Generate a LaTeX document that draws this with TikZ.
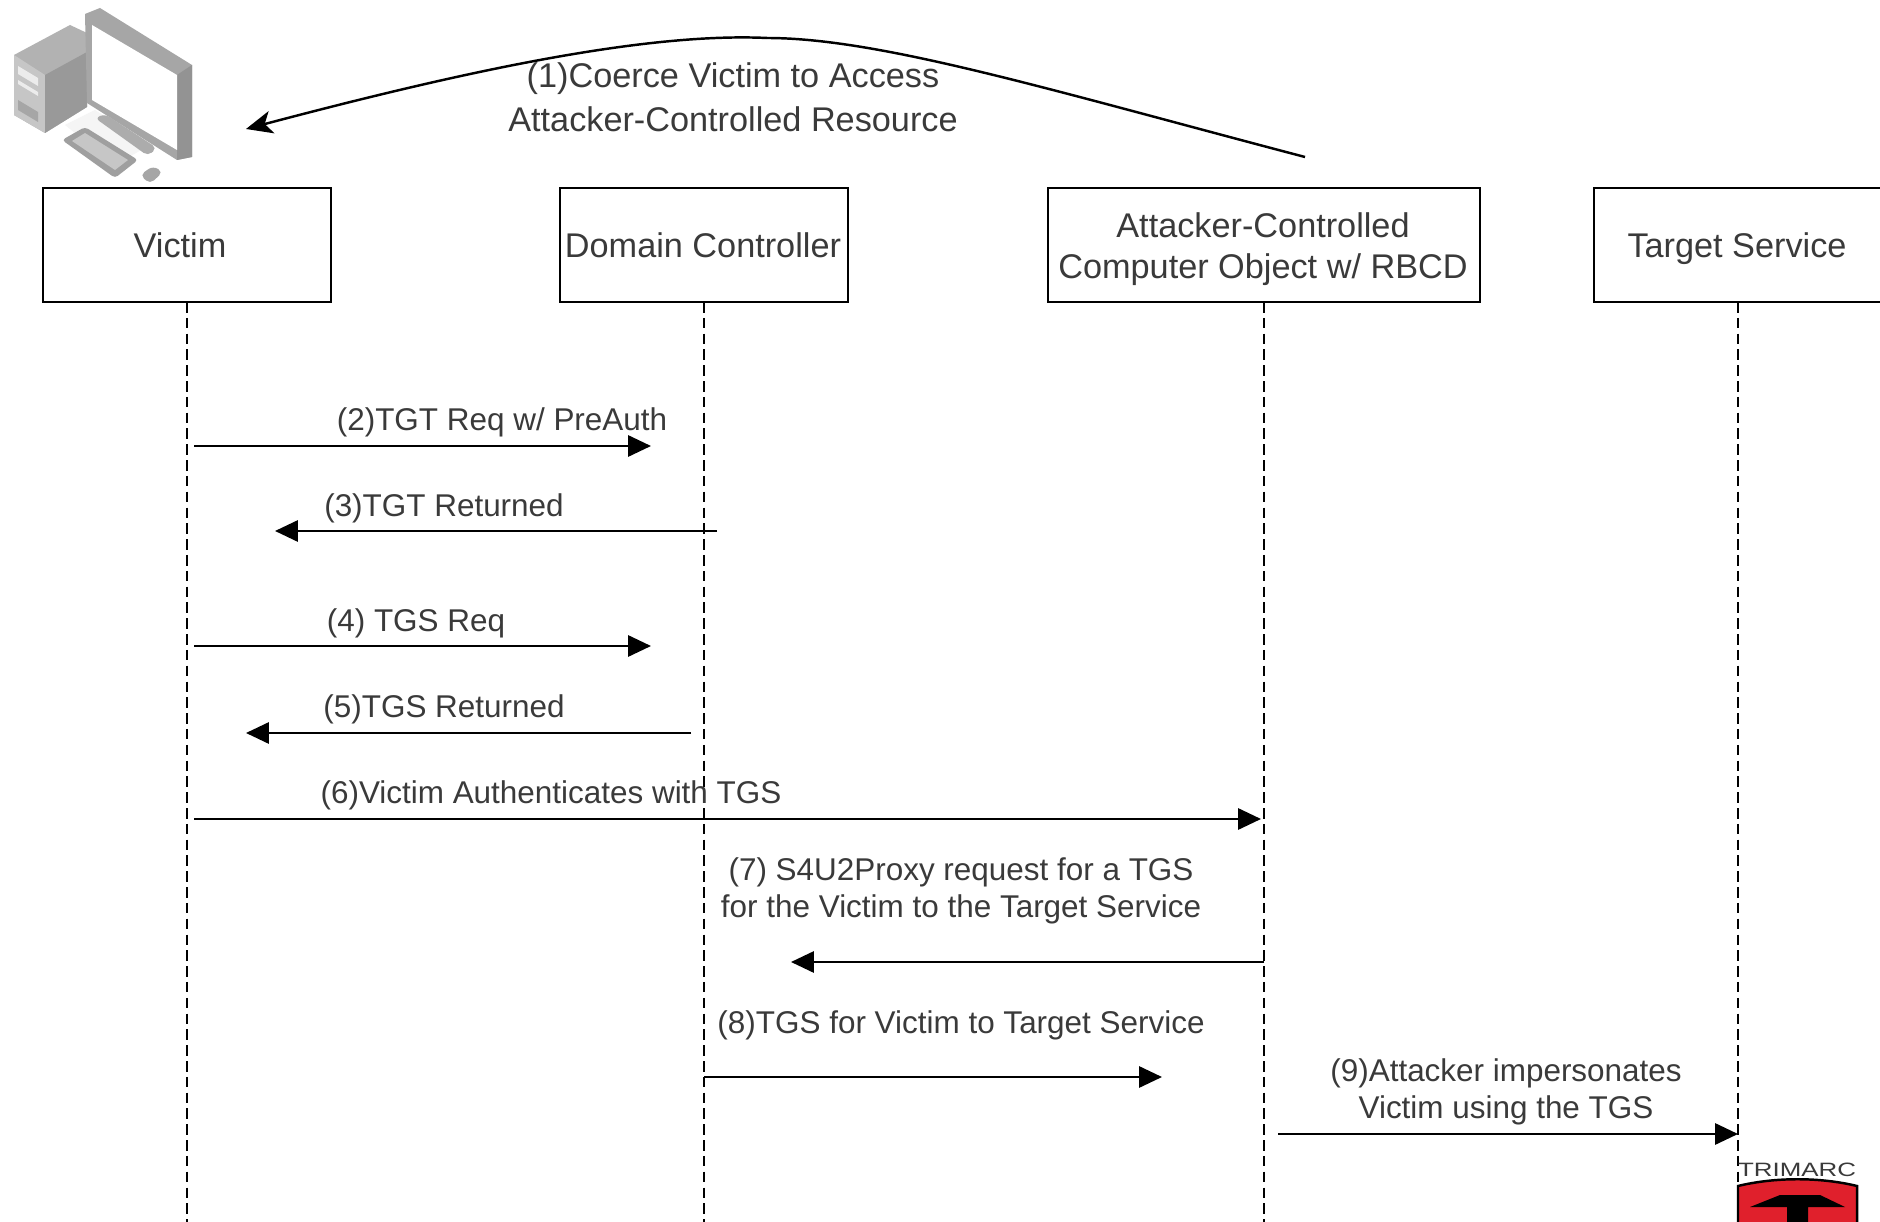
\documentclass[tikz,border=0pt]{standalone}
\usepackage{fontspec}
\setmainfont{Liberation Sans}
\usepackage{xcolor}
\usetikzlibrary{arrows.meta,positioning,calc}
\definecolor{labelgray}{HTML}{3A3A3A}
\definecolor{shieldred}{HTML}{E0202C}
\tikzset{
    actorbox/.style={draw=black,line width=1.5pt,fill=white,minimum width=164pt,minimum height=65pt,inner sep=0pt},
    lifeline/.style={draw=black,line width=1.3pt,dash pattern=on 6pt off 3pt},
    msgarrow/.style={draw=black,line width=1.4pt,-{Triangle[length=13pt,width=12pt]}},
    biglabel/.style={text=labelgray,font=\fontsize{19.5}{23.3}\selectfont,align=center,inner sep=0pt},
    msglabel/.style={text=labelgray,font=\fontsize{17.9}{21}\selectfont,align=center,inner sep=0pt},
}
\begin{document}
\begin{tikzpicture}[x=0.02cm,y=-0.02cm]
    \clip (0,0) rectangle (1880,1222);
    \fill[white] (0,0) rectangle (1880,1222);

    % lifelines
    \coordinate (victimtop) at (187,302);
    \coordinate (victimend) at (187,1222);
    \coordinate (dctop) at (704,302);
    \coordinate (dcend) at (704,1222);
    \coordinate (attackertop) at (1264,302);
    \coordinate (attackerend) at (1264,1222);
    \coordinate (targettop) at (1738,302);
    \coordinate (targetend) at (1738,1222);
    \draw[lifeline] (victimtop) -- (victimend);
    \draw[lifeline] (dctop) -- (dcend);
    \draw[lifeline] (attackertop) -- (attackerend);
    \draw[lifeline] (targettop) -- (targetend);

    % actor boxes
    \node[actorbox] (victimbox) at (187,245) {};
    \node[biglabel] (victimlabel) at (180,245) {Victim};
    \node[actorbox] (dcbox) at (704,245) {};
    \node[biglabel] (dclabel) at (703,245) {Domain Controller};
    \node[actorbox,minimum width=246pt] (attackerbox) at (1264,245) {};
    \node[biglabel] (attackerlabel) at (1263,249) {Attacker-Controlled\\Computer Object w/ RBCD};
    \node[actorbox] (targetbox) at (1738,245) {};
    \node[biglabel] (targetlabel) at (1737,249) {Target Service};

    % computer icon
    \fill[gray!60] (14,55) -- (70,25) -- (87,33) -- (87,107) -- (45,133) -- (14,115) -- cycle;
    \fill[gray!45] (14,55) -- (45,75) -- (45,133) -- (14,115) -- cycle;
    \fill[gray!80] (45,75) -- (87,52) -- (87,107) -- (45,133) -- cycle;
    \fill[gray!15] (18,66) -- (38,78) -- (38,86) -- (18,74) -- cycle;
    \fill[gray!15] (18,80) -- (38,92) -- (38,96) -- (18,84) -- cycle;
    \fill[gray!70] (18,100) -- (38,112) -- (38,122) -- (18,110) -- cycle;
    \fill[gray!70] (85,14) -- (100,8) -- (192,65) -- (192,157) -- (177,160) -- (87,103) -- cycle;
    \fill[gray!85] (177,75) -- (192,65) -- (192,157) -- (177,160) -- cycle;
    \fill[white] (92,25) -- (177,75) -- (177,150) -- (92,100) -- cycle;
    \fill[gray!8] (65,125) -- (95,110) -- (150,145) -- (115,165) -- cycle;
    \fill[gray!65,rounded corners=3pt] (95,118) -- (105,114) -- (157,148) -- (148,156) -- cycle;
    \fill[gray!75,rounded corners=2pt] (62,140) -- (85,127) -- (138,160) -- (115,178) -- cycle;
    \fill[gray!45] (72,141) -- (85,133) -- (128,160) -- (115,170) -- cycle;
    \fill[gray!70,rounded corners=3pt] (140,175) -- (153,166) -- (163,172) -- (150,184) -- cycle;

    % (1) curved arrow over the top
    \coordinate (coercestart) at (1305,157);
    \coordinate (coercetop) at (767,38);
    \coordinate (coerceend) at (246,129);
    \draw[draw=black,line width=1.4pt] (coercestart) .. controls (1050,90) and (880,38) .. (coercetop);
    \draw[msgarrow,-{Stealth[length=15pt,width=13pt,inset=4pt]}] (coercetop) .. controls (640,32) and (450,75) .. (coerceend);
    \node[biglabel,fill=none] (coercelabel) at (733,97) {(1)Coerce Victim to Access\\[1.6pt]Attacker-Controlled Resource};

    % (2) to (6)
    \coordinate (tgtreqa) at (194,446);
    \coordinate (tgtreqb) at (651,446);
    \draw[msgarrow] (tgtreqa) -- (tgtreqb);
    \node[msglabel] (tgtreqlabel) at (502,422) {(2)TGT Req w/ PreAuth};
    \coordinate (tgtreta) at (717,531);
    \coordinate (tgtretb) at (275,531);
    \draw[msgarrow] (tgtreta) -- (tgtretb);
    \node[msglabel] (tgtretlabel) at (444,508) {(3)TGT Returned};
    \coordinate (tgsreqa) at (194,646);
    \coordinate (tgsreqb) at (651,646);
    \draw[msgarrow] (tgsreqa) -- (tgsreqb);
    \node[msglabel] (tgsreqlabel) at (416,623) {(4) TGS Req};
    \coordinate (tgsreta) at (691,733);
    \coordinate (tgsretb) at (246,733);
    \draw[msgarrow] (tgsreta) -- (tgsretb);
    \node[msglabel] (tgsretlabel) at (444,709) {(5)TGS Returned};
    \coordinate (authena) at (194,819);
    \coordinate (authenb) at (1261,819);
    \draw[msgarrow] (authena) -- (authenb);
    \node[msglabel] (authenlabel) at (551,795) {(6)Victim Authenticates with TGS};

    % (7) to (9)
    \coordinate (proxya) at (1264,962);
    \coordinate (proxyb) at (791,962);
    \draw[msgarrow] (proxya) -- (proxyb);
    \node[msglabel] (proxylabel) at (961,891) {(7) S4U2Proxy request for a TGS\\for the Victim to the Target Service};
    \coordinate (forwarda) at (704,1077);
    \coordinate (forwardb) at (1162,1077);
    \draw[msgarrow] (forwarda) -- (forwardb);
    \node[msglabel] (forwardlabel) at (961,1025) {(8)TGS for Victim to Target Service};
    \coordinate (imposea) at (1278,1134);
    \coordinate (imposeb) at (1738,1134);
    \draw[msgarrow] (imposea) -- (imposeb);
    \node[msglabel] (imposelabel) at (1506,1092) {(9)Attacker impersonates\\Victim using the TGS};

    % logo
    \node[text=labelgray,font=\fontsize{11}{11}\selectfont,xscale=1.34,inner sep=0pt] (logotext) at (1797,1170) {TRIMARC};
    \draw[fill=shieldred,draw=black,line width=1.4pt] (1738,1186) .. controls (1775,1177) and (1820,1177) .. (1857,1186) -- (1857,1230) -- (1738,1230) -- cycle;
    \fill[black] (1750,1207) -- (1780,1195) -- (1820,1195) -- (1845,1207) -- (1808,1207) -- (1808,1230) -- (1787,1230) -- (1787,1207) -- cycle;
\end{tikzpicture}
\end{document}
